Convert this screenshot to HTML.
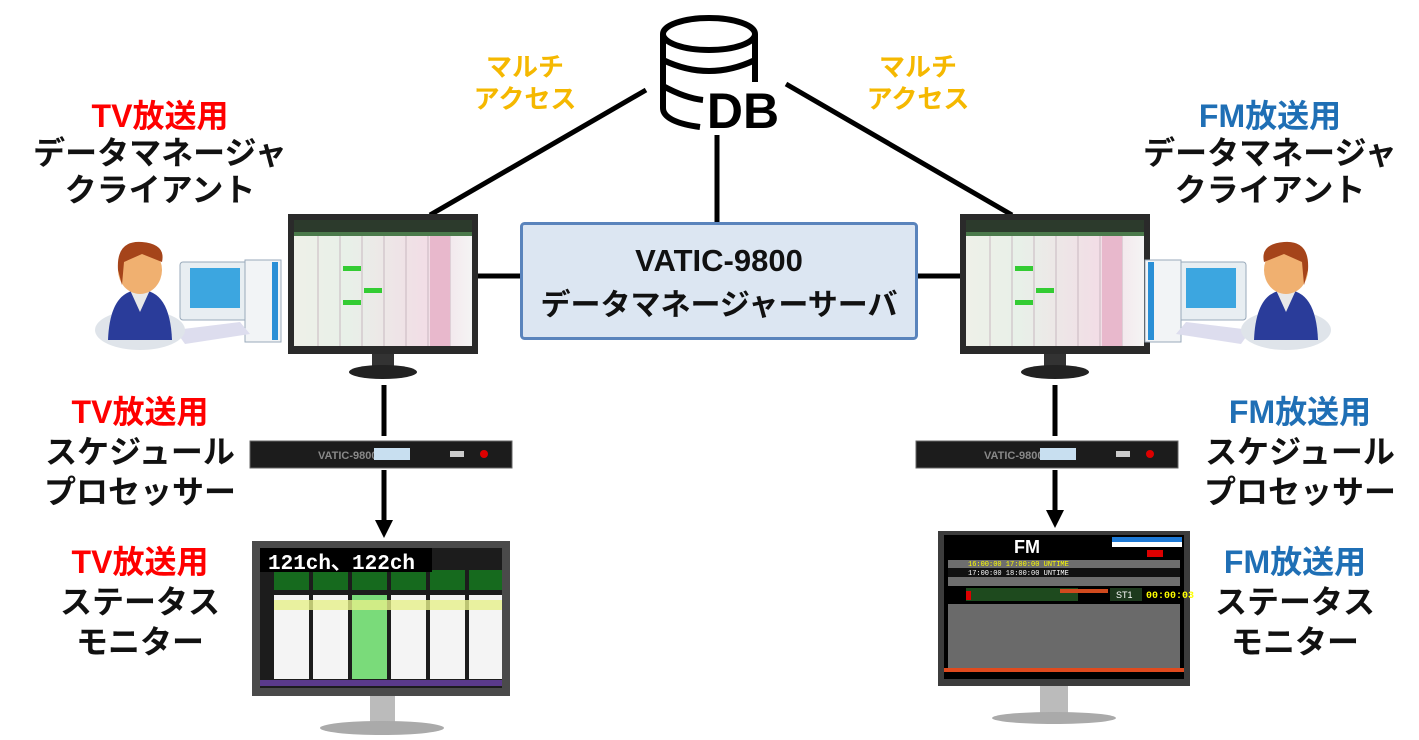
<!DOCTYPE html>
<html><head><meta charset="utf-8"><style>
body{margin:0;width:1419px;height:740px;background:#fff;position:relative;overflow:hidden;font-family:"Liberation Sans","Noto Sans CJK JP",sans-serif;}
.t{position:absolute;text-align:center;font-weight:bold;font-size:32px;line-height:37px;color:#111;}
.r{color:#f00}.b{color:#1f6fb5}
.o{position:absolute;text-align:center;font-weight:bold;font-size:26px;line-height:32px;color:#f5b800;}
</style></head><body>
<svg width="1419" height="740" style="position:absolute;left:0;top:0">
<defs>
<linearGradient id="scr" x1="0" y1="0" x2="1" y2="0"><stop offset="0" stop-color="#eef0e8"/><stop offset="0.3" stop-color="#e8f0e8"/><stop offset="0.75" stop-color="#f2dde6"/><stop offset="1" stop-color="#f4f4f4"/></linearGradient>
</defs>
<g stroke="#000" stroke-width="5" fill="none">
<line x1="430" y1="215" x2="646" y2="90"/>
<line x1="786" y1="84" x2="1012" y2="215"/>
<line x1="717" y1="135" x2="717" y2="222"/>
<line x1="476" y1="276" x2="522" y2="276"/>
<line x1="915" y1="276" x2="962" y2="276"/>
<line x1="384" y1="385" x2="384" y2="436"/>
<line x1="384" y1="470" x2="384" y2="522"/>
<line x1="1055" y1="385" x2="1055" y2="436"/>
<line x1="1055" y1="470" x2="1055" y2="512"/>
</g>
<polygon points="375,520 393,520 384,538" fill="#000"/>
<polygon points="1046,510 1064,510 1055,528" fill="#000"/>
<g stroke="#000" stroke-width="6" fill="none">
<ellipse cx="709" cy="34" rx="46" ry="16"/>
<path d="M663 34 V108 Q663 122 700 127"/>
<path d="M755 34 V82"/>
<path d="M663 60 Q709 82 755 60"/>
<path d="M663 86 Q685 98 703 100"/>
</g>
<text x="743" y="128" font-family="Liberation Sans" font-weight="bold" font-size="50" text-anchor="middle">DB</text>
<rect x="521.5" y="223.5" width="395" height="115" rx="3" fill="#dce6f2" stroke="#5a84bc" stroke-width="3"/>
<text x="719" y="271" font-family="Liberation Sans" font-weight="bold" font-size="31" text-anchor="middle" fill="#111">VATIC-9800</text>
<text x="719" y="315" font-family="Liberation Sans,Noto Sans CJK JP" font-weight="bold" font-size="30" text-anchor="middle" fill="#111">データマネージャーサーバ</text>

<g id="mon">
<rect x="288" y="214" width="190" height="140" fill="#2a2a2a"/>
<rect x="294" y="220" width="178" height="126" fill="url(#scr)"/>
<rect x="294" y="220" width="178" height="12" fill="#2c3a2c"/>
<rect x="294" y="232" width="178" height="4" fill="#4b7a4b"/>
<g stroke="#c8b8c0" stroke-width="1">
<line x1="318" y1="236" x2="318" y2="346"/><line x1="340" y1="236" x2="340" y2="346"/><line x1="362" y1="236" x2="362" y2="346"/><line x1="384" y1="236" x2="384" y2="346"/><line x1="406" y1="236" x2="406" y2="346"/><line x1="428" y1="236" x2="428" y2="346"/><line x1="450" y1="236" x2="450" y2="346"/>
</g>
<rect x="430" y="236" width="20" height="110" fill="#e8b8cc"/>
<rect x="343" y="266" width="18" height="5" fill="#3c3"/><rect x="364" y="288" width="18" height="5" fill="#3c3"/><rect x="343" y="300" width="18" height="5" fill="#3c3"/>
<rect x="372" y="354" width="22" height="16" fill="#333"/>
<ellipse cx="383" cy="372" rx="34" ry="7" fill="#222"/>
</g>
<use href="#mon" transform="translate(672,0)"/>

<g id="per">
<rect x="180" y="262" width="70" height="58" rx="3" fill="#e8eef2" stroke="#9ab" stroke-width="1"/>
<rect x="190" y="268" width="50" height="40" fill="#3ca6e0"/>
<rect x="245" y="260" width="36" height="82" fill="#f2f4f6" stroke="#9ab"/>
<rect x="272" y="262" width="6" height="78" fill="#2a8fd6"/>
<polygon points="175,330 240,322 250,334 185,344" fill="#dde"/>
<ellipse cx="140" cy="330" rx="45" ry="20" fill="#dfe4ea"/>
<path d="M108 340 Q110 290 140 290 Q170 290 172 340 Z" fill="#2a3c9a"/>
<path d="M130 290 L140 312 L150 290 Z" fill="#e8e8e8"/>
<ellipse cx="140" cy="270" rx="22" ry="24" fill="#f0b070"/>
<path d="M118 270 Q116 240 142 242 Q166 244 162 262 L142 254 L124 262 L122 285 Z" fill="#a5441a"/>
</g>
<g transform="translate(1426,0) scale(-1,1)"><use href="#per"/></g>

<g id="rk">
<rect x="250" y="441" width="262" height="27" fill="#1c1c1c"/>
<rect x="250" y="441" width="262" height="27" fill="none" stroke="#666"/>
<text x="318" y="459" font-family="Liberation Sans" font-weight="bold" font-size="11" fill="#888">VATIC-9800</text>
<rect x="374" y="448" width="36" height="12" fill="#c8dff0"/>
<rect x="450" y="451" width="14" height="6" fill="#ccc"/>
<circle cx="484" cy="454" r="4" fill="#d00"/>
</g>
<use href="#rk" transform="translate(666,0)"/>

<rect x="252" y="541" width="258" height="155" fill="#4a4a4a"/>
<rect x="260" y="548" width="242" height="140" fill="#1c1c1c"/>
<g fill="#f4f4f4">
<rect x="274" y="595" width="35" height="84"/><rect x="313" y="595" width="35" height="84"/><rect x="352" y="595" width="35" height="84" fill="#7adb7a"/><rect x="391" y="595" width="35" height="84"/><rect x="430" y="595" width="35" height="84"/><rect x="469" y="595" width="33" height="84"/>
</g>
<rect x="274" y="600" width="228" height="10" fill="#e6f08a" opacity="0.8"/>
<g fill="#166a1e"><rect x="274" y="570" width="35" height="20"/><rect x="313" y="570" width="35" height="20"/><rect x="352" y="570" width="35" height="20"/><rect x="391" y="570" width="35" height="20"/><rect x="430" y="570" width="35" height="20"/><rect x="469" y="570" width="33" height="20"/></g>
<rect x="260" y="680" width="242" height="6" fill="#5a3a8a"/>
<rect x="260" y="548" width="172" height="24" fill="#000"/>
<text x="268" y="569" font-family="Liberation Mono,Liberation Sans" font-weight="bold" font-size="21" fill="#fff">121ch、122ch</text>
<rect x="370" y="696" width="25" height="28" fill="#bbb"/>
<ellipse cx="382" cy="728" rx="62" ry="7" fill="#aaa"/>

<rect x="938" y="531" width="252" height="155" fill="#3c3c3c"/>
<rect x="944" y="535" width="240" height="144" fill="#000"/>
<text x="1027" y="553" font-family="Liberation Sans" font-weight="bold" font-size="18" fill="#fff" text-anchor="middle">FM</text>
<rect x="1112" y="537" width="70" height="5" fill="#1e7ad6"/><rect x="1112" y="542" width="70" height="5" fill="#fff"/><rect x="1147" y="550" width="16" height="7" fill="#d00"/>
<rect x="948" y="560" width="232" height="26" fill="#6e6e6e"/>
<rect x="948" y="568" width="232" height="9" fill="#111"/>
<text x="968" y="566" font-family="Liberation Mono" font-size="7" fill="#ff0">16:00:00 17:00:00 UNTIME</text>
<text x="968" y="575" font-family="Liberation Mono" font-size="7" fill="#fff">17:00:00 18:00:00 UNTIME</text>
<rect x="966" y="588" width="112" height="13" fill="#1e4a1e"/><rect x="1060" y="589" width="48" height="4" fill="#d04a1e"/>
<rect x="1110" y="588" width="32" height="13" fill="#1e3a1e"/><text x="1116" y="598" font-family="Liberation Sans" font-size="9" fill="#fff">ST1</text>
<text x="1146" y="598" font-family="Liberation Mono" font-weight="bold" font-size="10" fill="#ff0">00:00:03</text>
<rect x="966" y="591" width="5" height="9" fill="#d00"/>
<rect x="948" y="604" width="232" height="64" fill="#6a6a6a"/>
<rect x="944" y="668" width="240" height="4" fill="#e04a1e"/>
<rect x="1040" y="686" width="28" height="28" fill="#bbb"/>
<ellipse cx="1054" cy="718" rx="62" ry="6" fill="#aaa"/>
</svg>

<div class="t" style="left:20px;top:98px;width:280px"><span class="r">TV放送用</span><br>データマネージャ<br>クライアント</div>
<div class="t" style="left:1125px;top:98px;width:290px"><span class="b">FM放送用</span><br>データマネージャ<br>クライアント</div>
<div class="o" style="left:440px;top:51px;width:170px">マルチ<br>アクセス</div>
<div class="o" style="left:833px;top:51px;width:170px">マルチ<br>アクセス</div>
<div class="t" style="left:20px;top:392px;width:240px;line-height:40px"><span class="r">TV放送用</span><br>スケジュール<br>プロセッサー</div>
<div class="t" style="left:1180px;top:392px;width:240px;line-height:40px"><span class="b">FM放送用</span><br>スケジュール<br>プロセッサー</div>
<div class="t" style="left:20px;top:542px;width:240px;line-height:40px"><span class="r">TV放送用</span><br>ステータス<br>モニター</div>
<div class="t" style="left:1180px;top:542px;width:230px;line-height:40px"><span class="b">FM放送用</span><br>ステータス<br>モニター</div>
</body></html>
